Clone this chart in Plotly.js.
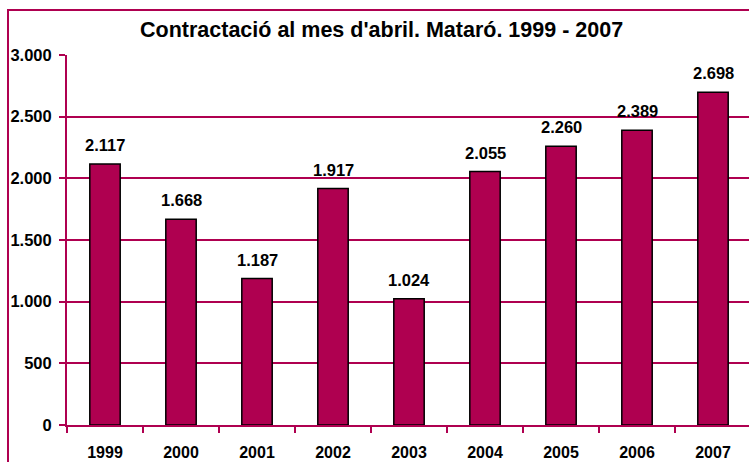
<!DOCTYPE html>
<html><head><meta charset="utf-8">
<script src="https://cdn.plot.ly/plotly-3.0.1.min.js"></script>
<style>
html,body{margin:0;padding:0;overflow:hidden;width:749px;height:462px;background:#fff;}
#wrap{position:relative;width:749px;height:462px;overflow:hidden;}
#chart{position:absolute;left:0;top:0;}
#frame{position:absolute;left:7px;top:9px;width:800px;height:500px;border:2px solid #AF0050;pointer-events:none;}
</style></head>
<body><div id="wrap"><div id="chart"></div><div id="frame"></div></div>
<script>
const years = ['1999','2000','2001','2002','2003','2004','2005','2006','2007'];
const values = [2117,1668,1187,1917,1024,2055,2260,2389,2698];
const labels = ['2.117','1.668','1.187','1.917','1.024','2.055','2.260','2.389','2.698'];
const titleText = "Contractació al mes d'abril. Mataró. 1999 - 2007";
const col = '#AF0050';
const fam = 'Arial, "Liberation Sans", sans-serif';
const fnt = {family:fam, size:16.5, color:'#000', weight:'bold'};
const xfnt = {family:fam, size:16, color:'#000', weight:'bold'};

const trace = {
  type:'bar', x:years, y:values,
  marker:{color:col, line:{color:'#000', width:1.5}},
  width:0.4, hoverinfo:'skip'
};
const annotations = years.map((y,i)=>({
  x:i, y:values[i], text:'<b>'+labels[i]+'</b>', showarrow:false,
  yanchor:'bottom', yshift:8, font:fnt
}));
annotations.push({
  xref:'paper', yref:'paper', x:0.4605, y:1, yshift:25, yanchor:'middle', xanchor:'center',
  text:'<b>'+titleText+'</b>', showarrow:false,
  font:{family:fam, size:21.5, color:'#000'}
});
const layout = {
  width:760, height:462,
  margin:{l:67, r:9, t:55, b:37, pad:0},
  paper_bgcolor:'rgba(0,0,0,0)', plot_bgcolor:'#fff',
  showlegend:false,
  separators:',.',
  font:fnt,
  xaxis:{type:'category', range:[-0.5,8.5], tickson:'boundaries', ticks:'outside', ticklen:6, tickwidth:2, tickcolor:col,
         showline:true, linecolor:col, linewidth:2, showgrid:false, tickfont:xfnt, fixedrange:true,
         tickangle:0, ticklabelstandoff:12},
  yaxis:{range:[0,3000], tickvals:[0,500,1000,1500,2000,2500,3000], tickformat:',d',
         ticks:'outside', ticklen:6, tickwidth:2, tickcolor:col,
         showline:true, linecolor:col, linewidth:2, showgrid:true, gridcolor:col, gridwidth:2,
         zeroline:false, tickfont:fnt, fixedrange:true, ticklabelstandoff:4},
  annotations:annotations
};
Plotly.newPlot('chart',[trace],layout,{displayModeBar:false,staticPlot:true});
</script></body></html>
